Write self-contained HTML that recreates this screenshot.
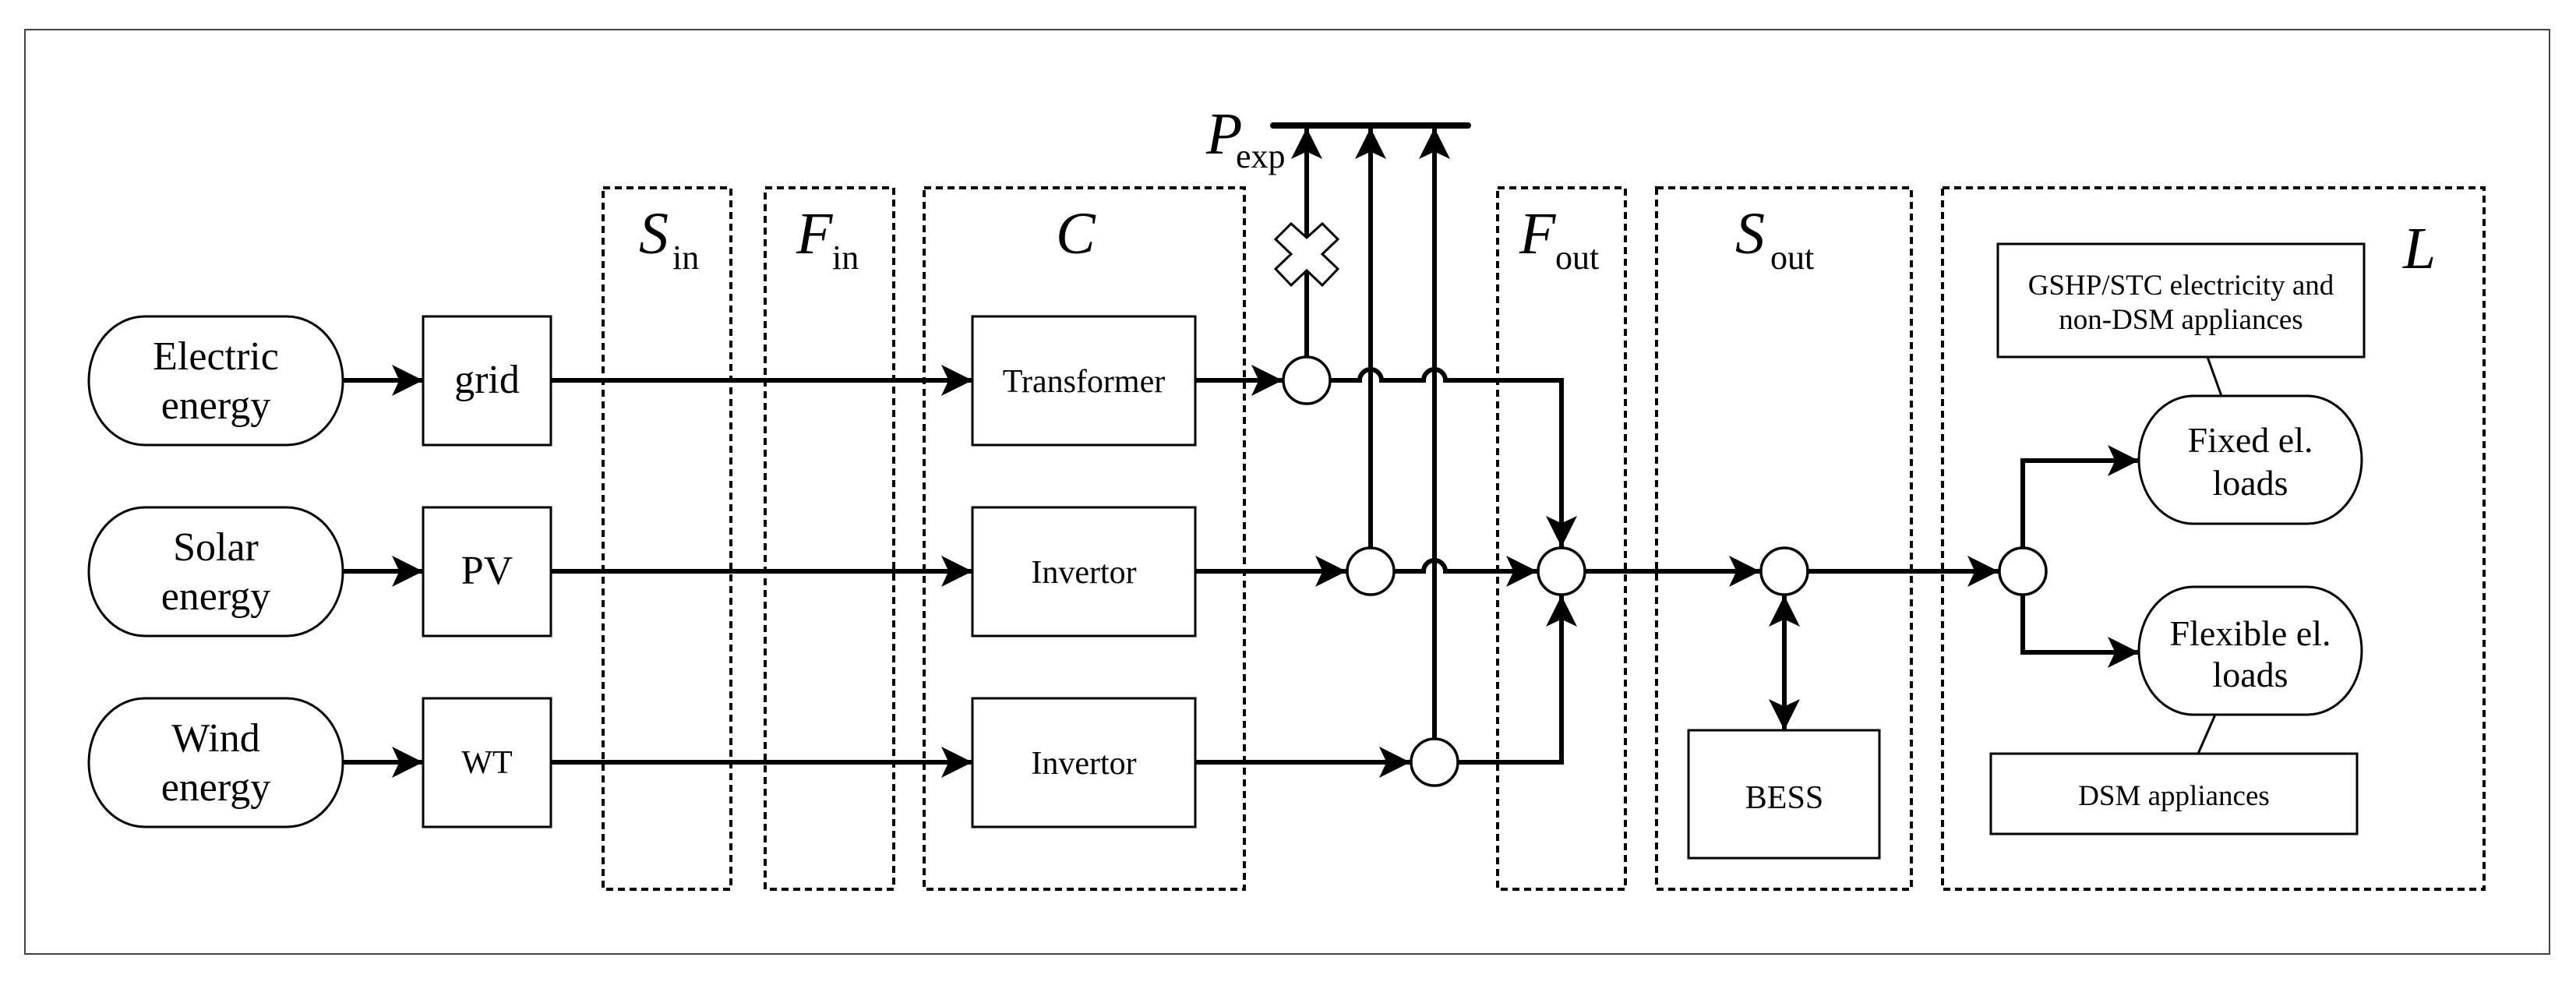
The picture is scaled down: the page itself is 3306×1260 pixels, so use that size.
<!DOCTYPE html>
<html><head><meta charset="utf-8"><style>
html,body{margin:0;padding:0;background:#fff;}
svg{display:block;}
text{font-family:"Liberation Serif",serif;fill:#000;}
</style></head><body>
<svg width="3306" height="1260" viewBox="0 0 3306 1260" xmlns="http://www.w3.org/2000/svg">
<defs>
<marker id="a" markerUnits="userSpaceOnUse" markerWidth="40" markerHeight="40" viewBox="0 0 34 34" refX="34" refY="17" orient="auto-start-reverse">
<path d="M0,0 L34,17 L0,34 L8,17 Z" fill="#000"/>
</marker>
</defs>
<rect x="0" y="0" width="3306" height="1260" fill="#fff"/>
<rect x="32" y="38" width="3240" height="1186" fill="none" stroke="#444" stroke-width="2"/>

<!-- dashed boxes -->
<g fill="none" stroke="#000" stroke-width="4" stroke-dasharray="9,6">
<rect x="774" y="241" width="164" height="900"/>
<rect x="982" y="241" width="165" height="900"/>
<rect x="1186" y="241" width="411" height="900"/>
<rect x="1922" y="241" width="164" height="900"/>
<rect x="2126" y="241" width="327" height="900"/>
<rect x="2493" y="241" width="695" height="900"/>
</g>

<!-- stadium sources -->
<g fill="#fff" stroke="#000" stroke-width="3">
<rect x="114" y="406" width="326" height="165" rx="72" ry="82"/>
<rect x="114" y="651" width="326" height="165" rx="72" ry="82"/>
<rect x="114" y="896" width="326" height="165" rx="72" ry="82"/>
<rect x="543" y="406" width="164" height="165"/>
<rect x="543" y="651" width="164" height="165"/>
<rect x="543" y="896" width="164" height="165"/>
<rect x="1248" y="406" width="286" height="165"/>
<rect x="1248" y="651" width="286" height="165"/>
<rect x="1248" y="896" width="286" height="165"/>
<rect x="2167" y="937" width="245" height="164"/>
<rect x="2564" y="313" width="470" height="145"/>
<rect x="2555" y="967" width="470" height="103"/>
<rect x="2745" y="508" width="286" height="164" rx="70" ry="82"/>
<rect x="2745" y="753" width="286" height="164" rx="70" ry="82"/>
</g>
<g stroke="#000" stroke-width="3">
<line x1="2833" y1="458" x2="2851" y2="508"/>
<line x1="2843" y1="917" x2="2821" y2="967"/>
</g>

<!-- connectors -->
<g fill="none" stroke="#000" stroke-width="6">
<line x1="440" y1="488" x2="543" y2="488" marker-end="url(#a)"/>
<line x1="440" y1="733" x2="543" y2="733" marker-end="url(#a)"/>
<line x1="440" y1="978" x2="543" y2="978" marker-end="url(#a)"/>
<line x1="707" y1="488" x2="1248" y2="488" marker-end="url(#a)"/>
<line x1="707" y1="733" x2="1248" y2="733" marker-end="url(#a)"/>
<line x1="707" y1="978" x2="1248" y2="978" marker-end="url(#a)"/>
<line x1="1534" y1="488" x2="1646" y2="488" marker-end="url(#a)"/>
<line x1="1534" y1="733" x2="1728" y2="733" marker-end="url(#a)"/>
<line x1="1534" y1="978" x2="1810" y2="978" marker-end="url(#a)"/>
<!-- bus bar -->
<line x1="1634" y1="161" x2="1884" y2="161" stroke-width="8" stroke-linecap="round"/>
<line x1="1677" y1="457" x2="1677" y2="164" marker-end="url(#a)"/>
<line x1="1759" y1="702" x2="1759" y2="164" marker-end="url(#a)"/>
<line x1="1841" y1="947" x2="1841" y2="164" marker-end="url(#a)"/>
<!-- row1 to circle4 with hops -->
<path d="M1708,488 H1745 A14,14 0 0 1 1773,488 H1827 A14,14 0 0 1 1855,488 H2004 V702" marker-end="url(#a)"/>
<path d="M1790,733 H1827 A14,14 0 0 1 1855,733 H1973" marker-end="url(#a)"/>
<path d="M1872,978 H2004 V764" marker-end="url(#a)"/>
<line x1="2035" y1="733" x2="2259" y2="733" marker-end="url(#a)"/>
<line x1="2321" y1="733" x2="2565" y2="733" marker-end="url(#a)"/>
<line x1="2290" y1="764" x2="2290" y2="937" marker-start="url(#a)" marker-end="url(#a)"/>
<path d="M2596,702 V591 H2745" marker-end="url(#a)"/>
<path d="M2596,764 V837 H2745" marker-end="url(#a)"/>
</g>

<!-- cross -->
<polygon points="1657,287 1677,305 1697,287 1717,307 1697,326 1717,345 1697,366 1677,347 1657,366 1637,345 1657,326 1637,307" fill="#fff" stroke="#000" stroke-width="3"/>

<!-- junction circles -->
<g fill="#fff" stroke="#000" stroke-width="3.5">
<circle cx="1677" cy="488" r="30"/>
<circle cx="1759" cy="733" r="30"/>
<circle cx="1841" cy="978" r="30"/>
<circle cx="2004" cy="733" r="30"/>
<circle cx="2290" cy="733" r="30"/>
<circle cx="2596" cy="733" r="30"/>
</g>

<!-- text -->
<g font-size="52" text-anchor="middle">
<text x="277" y="474">Electric</text><text x="277" y="537">energy</text>
<text x="277" y="719">Solar</text><text x="277" y="782">energy</text>
<text x="277" y="964">Wind</text><text x="277" y="1027">energy</text>
<text x="625" y="504">grid</text>
<text x="625" y="749">PV</text>
</g>
<g font-size="42" text-anchor="middle">
<text x="625" y="992">WT</text>
<text x="1391" y="503">Transformer</text>
<text x="1391" y="748">Invertor</text>
<text x="1391" y="993">Invertor</text>
<text x="2290" y="1037">BESS</text>
</g>
<g font-size="46" text-anchor="middle">
<text x="2888" y="580">Fixed el.</text><text x="2888" y="635">loads</text>
<text x="2888" y="828">Flexible el.</text><text x="2888" y="881">loads</text>
</g>
<g font-size="37" text-anchor="middle">
<text x="2799" y="378">GSHP/STC electricity and</text>
<text x="2799" y="422">non-DSM appliances</text>
<text x="2790" y="1033">DSM appliances</text>
</g>
<g font-size="76" font-style="italic">
<text x="820" y="325">S</text>
<text x="1022" y="325">F</text>
<text x="1355" y="325">C</text>
<text x="1548" y="197">P</text>
<text x="1950" y="325">F</text>
<text x="2227" y="325">S</text>
<text x="3084" y="344">L</text>
</g>
<g font-size="44">
<text x="863" y="345">in</text>
<text x="1068" y="345">in</text>
<text x="1586" y="215">exp</text>
<text x="1996" y="345">out</text>
<text x="2272" y="345">out</text>
</g>
</svg>
</body></html>
